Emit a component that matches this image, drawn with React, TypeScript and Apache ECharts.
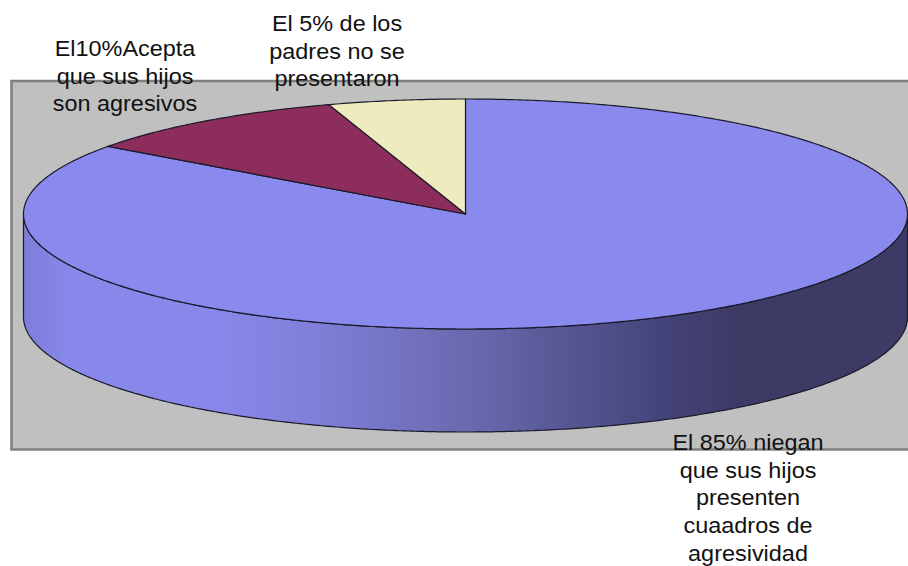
import React, { useEffect, useRef } from "react";
import * as echarts from "echarts";

const categories = ["Niegan", "Aceptan", "No se presentaron"];
const values = [85, 10, 5];
const sliceColors = ["#8a8aee", "#8c2d5c", "#eeecbe"];
const labels = [
  "El 85% niegan\nque sus hijos\npresenten\ncuaadros de\nagresividad",
  "El10%Acepta\nque sus hijos\nson agresivos",
  "El 5% de los\npadres no se\npresentaron",
];
const labelCentres = [[748, 429], [125, 35], [337, 10]];

const CX = 465.5;
const CY = 214;
const RX = 442;
const RY = 115;
const DEPTH = 103;
const STEP = 0.5;

function ellipsePoint(deg: number, dy = 0): number[] {
  const t = (deg * Math.PI) / 180;
  return [CX + RX * Math.sin(t), CY - RY * Math.cos(t) + dy];
}

function arcPoints(from: number, to: number, dy = 0): number[][] {
  const pts: number[][] = [];
  const n = Math.max(1, Math.ceil(Math.abs(to - from) / STEP));
  for (let i = 0; i <= n; i++) pts.push(ellipsePoint(from + ((to - from) * i) / n, dy));
  return pts;
}

export default function App() {
  const ref = useRef<HTMLDivElement>(null);
  useEffect(() => {
    document.body.style.margin = "0";
    const chart = echarts.init(ref.current!, undefined, { renderer: "svg" });
    const total = values.reduce((a, b) => a + b, 0);
    const renderItem = (params: any, api: any) => {
      const i = params.dataIndex;
      const start = (values.slice(0, i).reduce((a, b) => a + b, 0) / total) * 360;
      const end = start + (api.value(1) / total) * 360;
      const children: any[] = [];
      const line = { stroke: "#1a1a2a", lineWidth: 1.2 };
      const frontEnd = Math.min(end, 270);
      const frontStart = Math.max(start, 90);
      if (frontEnd > frontStart) {
        const top = arcPoints(frontStart, frontEnd, 0);
        const bottom = arcPoints(frontEnd, frontStart, DEPTH);
        children.push({
          type: "polygon",
          shape: { points: top.concat(bottom) },
          style: {
            ...line,
            fill: new echarts.graphic.LinearGradient(
              CX - RX, 0, CX + RX, 0,
              [
                { offset: 0, color: "#7d7dd9" },
                { offset: 0.05, color: "#8888ea" },
                { offset: 0.22, color: "#8888ea" },
                { offset: 0.33, color: "#7f7fd8" },
                { offset: 0.5, color: "#6a6ab0" },
                { offset: 0.72, color: "#45447a" },
                { offset: 0.8, color: "#3d3b66" },
                { offset: 1, color: "#3d3b66" },
              ],
              true
            ),
          },
        });
      }
      children.push({
        type: "polygon",
        shape: { points: [[CX, CY], ...arcPoints(start, end, 0)] },
        style: { ...line, fill: sliceColors[i] },
      });
      return { type: "group", children };
    };
    chart.setOption({
      animation: false,
      graphic: [
        {
          type: "rect",
          z: -1,
          shape: { x: 11.5, y: 81, width: 900, height: 368.5 },
          style: { fill: "#c0c0c0", stroke: "#808080", lineWidth: 2.6 },
        },
        ...labels.map((text, i) => ({
          type: "text",
          z: 20,
          x: labelCentres[i][0],
          y: labelCentres[i][1],
          scaleX: 1.08,
          style: {
            text,
            fill: "#111111",
            font: '21.7px "Liberation Sans"',
            lineHeight: 27.7,
            align: "center",
            verticalAlign: "top",
          },
        })),
      ],
      series: [
        {
          type: "custom",
          coordinateSystem: "none",
          silent: true,
          data: categories.map((name, i) => ({ name, value: [i, values[i]] })),
          renderItem,
        },
      ],
    });
    return () => chart.dispose();
  }, []);
  return <div ref={ref} style={{ width: 908, height: 566, background: "#ffffff" }} />;
}
